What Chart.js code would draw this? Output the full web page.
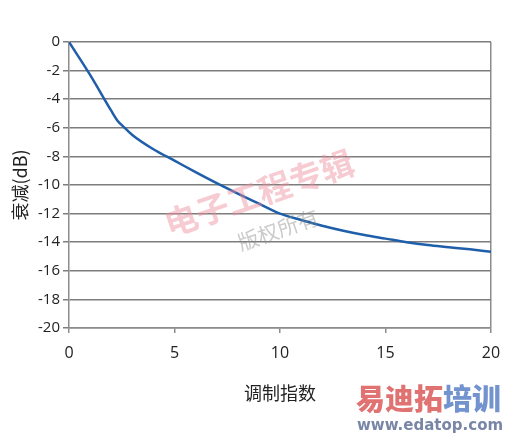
<!DOCTYPE html>
<html>
<head>
<meta charset="utf-8">
<script src="https://cdn.jsdelivr.net/npm/chart.js@4/dist/chart.umd.min.js"></script>
<style>
  html, body { margin: 0; padding: 0; background: #fff; }
  #wrap { width: 512px; height: 436px; }
</style>
</head>
<body>
<div id="wrap"><canvas id="mainChart" width="512" height="436"></canvas></div>
<script>
// modulation index vs attenuation
var indexValues = [0, 1, 2.0, 2.3, 2.6, 3, 4, 5, 6, 7, 8, 9, 10, 11, 12, 13, 14, 15, 16, 17, 18, 19, 20];
var attenuation = [0, -2.3, -4.8, -5.5, -5.95, -6.5, -7.5, -8.3, -9.1, -9.87, -10.6, -11.3, -12.0, -12.45, -12.85, -13.2, -13.5, -13.75, -14.0, -14.2, -14.35, -14.5, -14.67];
var xTicks = [0, 5, 10, 15, 20];
var yTicks = [0, -2, -4, -6, -8, -10, -12, -14, -16, -18, -20];

var points = indexValues.map(function (x, i) { return { x: x, y: attenuation[i] }; });

// watermark text drawn over the plot
var watermark = {
  id: 'watermark',
  afterDraw: function (chart) {
    var c = chart.ctx;
    c.save();
    c.translate(259, 193);
    c.rotate(-19 * Math.PI / 180);
    c.textAlign = 'center';
    c.textBaseline = 'middle';
    c.fillStyle = 'rgba(238,140,155,0.45)';
    c.font = 'bold 33px "Noto Sans CJK SC"';
    c.fillText('电子工程专辑', 0, 0);
    c.fillStyle = 'rgba(140,140,140,0.45)';
    c.font = '21px "Noto Sans CJK SC"';
    c.fillText('版权所有', 6, 41);
    c.restore();

    c.save();
    c.textBaseline = 'middle';
    c.font = '900 29px "Noto Sans CJK SC"';
    c.fillStyle = '#e07272';
    c.fillText('易迪拓', 356, 399);
    var w = c.measureText('易迪拓').width;
    c.fillStyle = '#7393cf';
    c.fillText('培训', 356 + w, 399);
    c.font = 'bold 15px "DejaVu Sans"';
    c.fillStyle = '#7a86a6';
    c.fillText('www.edatop.com', 357, 426);
    c.restore();
  }
};

var ctx = document.getElementById('mainChart').getContext('2d');
var chart = new Chart(ctx, {
  type: 'line',
  data: {
    datasets: [{
      label: '衰减',
      data: points,
      borderColor: '#1f5ea8',
      borderWidth: 2.5,
      pointRadius: 0,
      cubicInterpolationMode: 'monotone',
      fill: false
    }]
  },
  options: {
    responsive: false,
    animation: false,
    layout: { padding: { top: 42, right: 21, bottom: 0, left: 0 } },
    plugins: { legend: { display: false }, tooltip: { enabled: false } },
    scales: {
      x: {
        type: 'linear',
        min: 0,
        max: 20,
        afterBuildTicks: function (axis) { axis.ticks = xTicks.map(function (v) { return { value: v }; }); },
        afterFit: function (axis) { axis.height = 108; },
        grid: {
          color: function (c) { return c.tick && c.tick.value === 20 ? '#8c8c8c' : 'rgba(0,0,0,0)'; },
          tickColor: '#8c8c8c',
          tickLength: 5,
          lineWidth: 1.5
        },
        border: { color: '#8c8c8c', width: 1.5 },
        ticks: { color: '#222', padding: 11, font: { family: 'Open Sans', size: 16 } },
        title: {
          display: true,
          text: '调制指数',
          color: '#222',
          padding: { top: 0, bottom: 32 },
          font: { family: 'Noto Sans CJK SC', size: 18 }
        }
      },
      y: {
        min: -20,
        max: 0,
        afterBuildTicks: function (axis) { axis.ticks = yTicks.map(function (v) { return { value: v }; }); },
        afterFit: function (axis) { axis.width = 69; },
        grid: { color: '#7d7d7d', lineWidth: 1.5, tickLength: 6 },
        border: { color: '#8c8c8c', width: 1.5 },
        ticks: { color: '#222', padding: 3, font: { family: 'Open Sans', size: 15 } },
        title: {
          display: true,
          text: '衰减(dB)',
          color: '#222',
          padding: { top: 9, bottom: 0 },
          font: { family: 'Noto Sans CJK SC', size: 18 }
        }
      }
    }
  },
  plugins: [watermark]
});
</script>
</body>
</html>
